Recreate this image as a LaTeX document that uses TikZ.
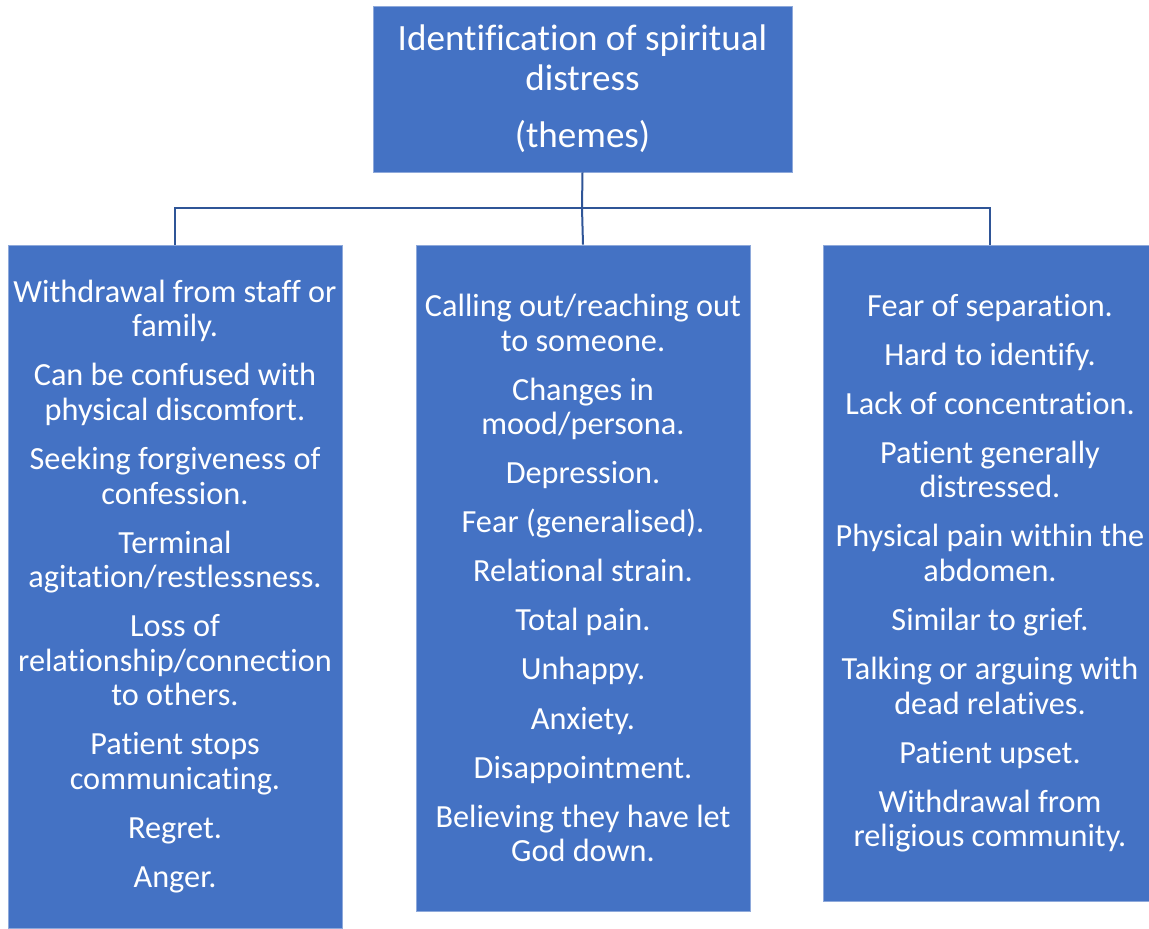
\documentclass[tikz,border=0pt]{standalone}
\usepackage{fontspec}
\setmainfont{Carlito}[Ligatures=CommonOff,Contextuals=AlternateOff]
\definecolor{boxblue}{HTML}{4472C4}
\definecolor{boxedge}{HTML}{8EA9DB}
\definecolor{linkblue}{HTML}{2F5597}
\begin{document}
\begin{tikzpicture}[x=0.75pt,y=-0.75pt,
  themebox/.style={fill=boxblue,draw=boxedge,line width=0.5pt,text=white,
    align=center,inner sep=0pt,minimum width=250.5pt},
  link/.style={draw=linkblue,line width=1.5pt}]
 \useasboundingbox (0,0) rectangle (1149,928);
 % top box
 \node[themebox,minimum width=314.25pt,minimum height=124.5pt,
   font=\fontsize{27.8}{30}\selectfont] (root) at (582.5,89)
   {Identification of spiritual\\ distress\\[12.75pt] (themes)};
 % the three columns
 \node[themebox,minimum height=512.25pt,font=\fontsize{24.2}{25.9}\selectfont]
   (colA) at (175,586.5)
   {Withdrawal from staff or\\ family.\\[10.9pt]
    Can be confused with\\ physical discomfort.\\[10.9pt]
    Seeking forgiveness of\\ confession.\\[10.9pt]
    Terminal\\ agitation/restlessness.\\[10.9pt]
    Loss of\\ relationship/connection\\ to others.\\[10.9pt]
    Patient stops\\ communicating.\\[10.9pt]
    Regret.\\[10.9pt]
    Anger.};
 \node[themebox,minimum height=499.5pt,font=\fontsize{24.2}{25.9}\selectfont]
   (colB) at (583,578)
   {Calling out/reaching out\\ to someone.\\[10.9pt]
    Changes in\\ mood/persona.\\[10.9pt]
    Depression.\\[10.9pt]
    Fear (generalised).\\[10.9pt]
    Relational strain.\\[10.9pt]
    Total pain.\\[10.9pt]
    Unhappy.\\[10.9pt]
    Anxiety.\\[10.9pt]
    Disappointment.\\[10.9pt]
    Believing they have let\\ God down.};
 \node[themebox,minimum height=492pt,font=\fontsize{24.2}{25.9}\selectfont]
   (colC) at (990,573)
   {Fear of separation.\\[10.9pt]
    Hard to identify.\\[10.9pt]
    Lack of concentration.\\[10.9pt]
    Patient generally\\ distressed.\\[10.9pt]
    Physical pain within the\\ abdomen.\\[10.9pt]
    Similar to grief.\\[10.9pt]
    Talking or arguing with\\ dead relatives.\\[10.9pt]
    Patient upset.\\[10.9pt]
    Withdrawal from\\ religious community.};
 % connectors
 \coordinate (bus) at (582,208);
 \draw[link] (root.south) -- (bus);
 \draw[link] (bus) -| (colA.north);
 \draw[link] (bus) -- (colB.north);
 \draw[link] (bus) -| (colC.north);
\end{tikzpicture}
\end{document}
